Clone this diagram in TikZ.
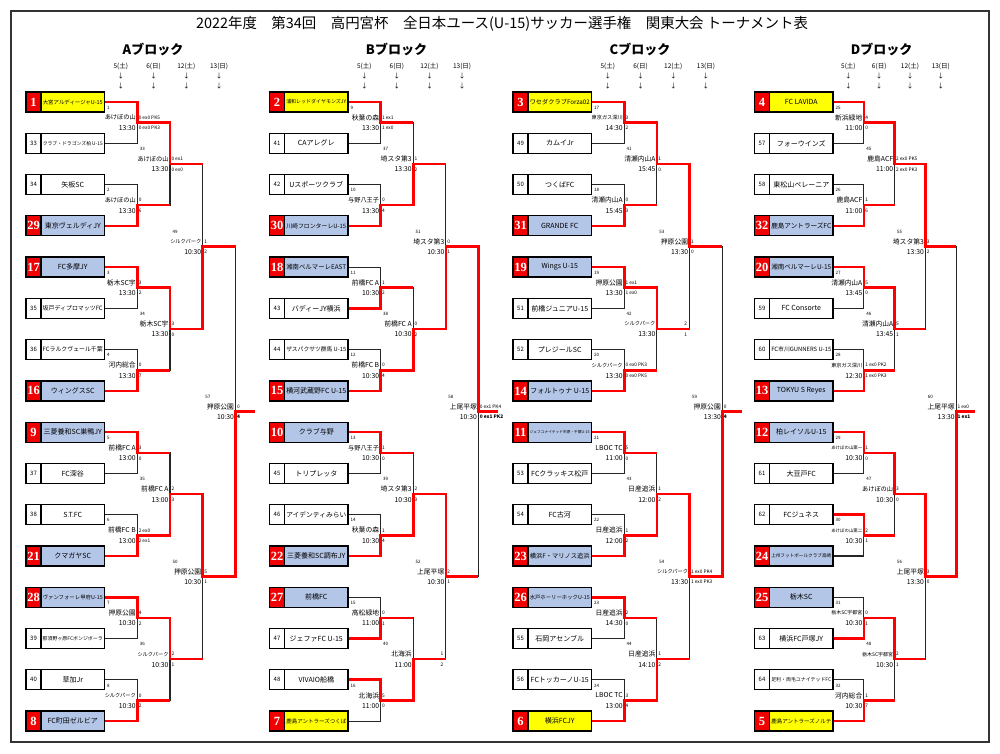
\documentclass[tikz,border=0pt]{standalone}
\usepackage{fontspec}
\usepackage{graphicx}
\newfontfamily\jp{Noto Sans CJK JP}
\newfontfamily\seedfont{Liberation Serif}
\definecolor{linered}{RGB}{255,0,0}
\definecolor{seedred}{RGB}{240,0,0}
\definecolor{seedblue}{RGB}{180,198,231}
\definecolor{seedyellow}{RGB}{255,255,0}
\pgfdeclarelayer{back}
\pgfdeclarelayer{mid}
\pgfsetlayers{back,mid,main}

%% shrink a text to a given width when it is too long
\newsavebox\fitbox
\newcommand\fitw[2]{\sbox\fitbox{#2}\ifdim\wd\fitbox>#1\relax\resizebox{#1}{!}{\usebox\fitbox}\else\usebox\fitbox\fi}

\tikzset{
  frame/.style={draw=black!80, line width=1.4pt},
  bline/.style={draw=black!85, line width=1.1pt},
  wline/.style={draw=linered, line width=2.6pt},
  numcell/.style={draw, line width=1.3pt, minimum width=15pt, minimum height=20pt, inner sep=0pt, fill=white, font=\jp\fontsize{6}{6}\selectfont},
  seedcell/.style={numcell, fill=seedred, text=white, font=\seedfont\bfseries\fontsize{12.5}{12.5}\selectfont},
  namecell/.style={draw, line width=1.3pt, minimum width=63.5pt, minimum height=20pt, inner sep=0pt, font=\jp\fontsize{7}{7}\selectfont},
  venue/.style={anchor=east, inner sep=0.3pt, font=\jp\fontsize{6.8}{7}\selectfont},
  score/.style={anchor=west, inner sep=0.3pt, font=\jp\fontsize{4.8}{5}\selectfont},
  matchno/.style={anchor=west, inner sep=0.3pt, font=\jp\fontsize{4.5}{5}\selectfont},
  datelab/.style={inner sep=0pt, font=\jp\fontsize{6.5}{7}\selectfont},
  blockhead/.style={inner sep=0pt, font=\jp\bfseries\fontsize{13}{13}\selectfont},
  titlelab/.style={inner sep=0pt, font=\jp\fontsize{14}{14}\selectfont},
}

%% #1 block letter, #2 left edge, #3 round step, #4 final stub, #5 teams, #6 matches
\newcommand\drawblock[6]{%
  \pgfmathsetmacro\Rx{#2+78.5}
  \node[blockhead] (#1-head) at (#2+127,49) {#1ブロック};
  \foreach \dlab [count=\dk from 0] in {5(土),6(日),12(土),13(日)}{
    \pgfmathsetmacro\xd{\Rx+(\dk+0.5)*#3}
    \node[datelab] (#1-date\dk) at (\xd,66) {\dlab};
    \node[datelab] (#1-arra\dk) at (\xd,76) {↓};
    \node[datelab] (#1-arrb\dk) at (\xd,86) {↓};
  }
  % teams
  \foreach \tnum/\tname/\tkind [count=\ti from 0] in {#5}{
    \pgfmathsetmacro\yt{102+41.27*\ti}
    \if W\tkind
      \node[numcell] (#1-n\ti) at (#2+7.5,\yt) {\tnum};
      \def\cfill{white}
    \else
      \node[seedcell] (#1-n\ti) at (#2+7.5,\yt) {\tnum};
      \if Y\tkind \def\cfill{seedyellow}\else\def\cfill{seedblue}\fi
    \fi
    \node[namecell, fill=\cfill] (#1-t\ti) at (#2+46.75,\yt) {\fitw{60pt}{\tname}};
    \coordinate (#1-0-\ti) at (#1-t\ti.east);
  }
  % matches
  \foreach \rnd/\idx/\mno/\ven/\tim/\sa/\sb/\win/\pos in {#6}{
    \pgfmathtruncatemacro\rp{\rnd-1}
    \pgfmathtruncatemacro\jt{2*\idx}
    \pgfmathtruncatemacro\jb{2*\idx+1}
    \pgfmathtruncatemacro\jw{2*\idx+\win}
    \pgfmathsetmacro\xm{\Rx+\rnd*#3}
    \pgfmathsetmacro\xl{\Rx+\rp*#3}
    \pgfmathsetmacro\ym{102+41.27*(\idx*2^\rnd+(2^\rnd-1)/2)}
    \pgfmathsetmacro\xo{\rnd<4 ? \Rx+(\rnd+1)*#3 : \Rx+4*#3+#4}
    \coordinate (#1-\rnd-\idx) at (\xm,\ym);
    \coordinate (#1-\rnd-\idx-out) at (\xo,\ym);
    \begin{pgfonlayer}{back}
      \draw[bline] (#1-\rp-\jt) -| (#1-\rnd-\idx) |- (#1-\rp-\jb);
    \end{pgfonlayer}
    \begin{pgfonlayer}{mid}
      \draw[wline] (#1-\rp-\jw) -| (#1-\rnd-\idx) -- (#1-\rnd-\idx-out);
    \end{pgfonlayer}
    \node[matchno] (#1-no\mno) at (\xl+2,\ym-15) {\mno};
    \node[venue] (#1-v\mno) at (\xm-1,\ym-5) {\fitw{31pt}{\ven}};
    \node[venue] (#1-h\mno) at (\xm-1,\ym+5.5) {\tim};
    \if o\pos
      \node[score, anchor=east] (#1-sa\mno) at (\xo-2,\ym-5) {\sa};
      \node[score, anchor=east] (#1-sb\mno) at (\xo-2,\ym+5.5) {\sb};
    \else
      \node[score] (#1-sa\mno) at (\xm+1,\ym-5) {\sa};
      \node[score] (#1-sb\mno) at (\xm+1,\ym+5.5) {\sb};
    \fi
  }
}

\begin{document}
\begin{tikzpicture}[x=1pt,y=-1pt]
  \useasboundingbox (0,0) rectangle (1000,753);
  \draw[frame] (11,11) rectangle (989,742);
  \node[titlelab] (title) at (502,24) {\resizebox{612pt}{!}{2022年度　第34回　高円宮杯　全日本ユース(U-15)サッカー選手権　関東大会 トーナメント表}};

  %% A block
  \drawblock{A}{26}{32.75}{19.5}{1/大宮アルディージャU-15/Y,
    33/クラブ・ドラゴンズ柏 U-15/W,
    34/矢板SC/W,
    29/東京ヴェルディJY/B,
    17/FC多摩JY/B,
    35/坂戸ディプロマッツFC/W,
    36/FCラルクヴェール千葉/W,
    16/ウィングスSC/B,
    9/三菱養和SC巣鴨JY/B,
    37/FC深谷/W,
    38/S.T.FC/W,
    21/クマガヤSC/B,
    28/ヴァンフォーレ甲府U-15/B,
    39/那須野ヶ原FCボンジボーラ/W,
    40/草加Jr/W,
    8/FC町田ゼルビア/B}{1/0/1/あけぼの山/13:30/0 ex0 PK5/0 ex0 PK3/0/n,
    1/1/2/あけぼの山/13:30/0/6/1/n,
    1/2/3/栃木SC宇/13:30/3/2/0/n,
    1/3/4/河内総合/13:30/0/7/1/n,
    1/4/5/前橋FC A/13:00/3/0/0/n,
    1/5/6/前橋FC B/13:00/2 ex0/2 ex1/1/n,
    1/6/7/押原公園/10:30/4/2/0/n,
    1/7/8/シルクパーク/10:30/0/2/1/n,
    2/0/33/あけぼの山/13:30/0 ex1/0 ex0/0/n,
    2/1/34/栃木SC宇/13:30/3/0/0/n,
    2/2/35/前橋FC A/13:00/2/3/1/n,
    2/3/36/シルクパーク/10:30/2/1/0/n,
    3/0/49/シルクパーク/10:30/1/2/1/n,
    3/1/50/押原公園/10:30/5/1/0/n,
    4/0/57/押原公園/10:30/0/\textbf{4}/1/n}

  %% B block
  \drawblock{B}{269.5}{32.6}{20}{2/浦和レッドダイヤモンズJY/Y,
    41/CAアレグレ/W,
    42/Uスポーツクラブ/W,
    30/川崎フロンターレU-15/B,
    18/湘南ベルマーレEAST/B,
    43/バディーJY横浜/W,
    44/ザスパクサツ群馬 U-15/W,
    15/横河武蔵野FC U-15/B,
    10/クラブ与野/B,
    45/トリプレッタ/W,
    46/アイデンティみらい/W,
    22/三菱養和SC調布JY/B,
    27/前橋FC/B,
    47/ジェファFC U-15/W,
    48/VIVAIO船橋/W,
    7/鹿島アントラーズつくば/Y}{1/0/9/秋葉の森/13:30/1 ex1/1 ex0/0/n,
    1/1/10/与野八王子/13:30/0/4/1/n,
    1/2/11/前橋FC A/10:30/1/2/1/n,
    1/3/12/前橋FC B/10:30/0/4/1/n,
    1/4/13/与野八王子/10:30/1/0/0/n,
    1/5/14/秋葉の森/10:30/1/4/1/n,
    1/6/15/高松緑地/11:00/0/1/1/n,
    1/7/16/北海浜/11:00/5/0/0/n,
    2/0/37/埼スタ第3/13:30/1/2/1/n,
    2/1/38/前橋FC A/10:30/0/2/1/n,
    2/2/39/埼スタ第3/10:30/2/3/1/n,
    2/3/40/北海浜/11:00/1/2/1/o,
    3/0/51/埼スタ第3/10:30/0/1/1/n,
    3/1/52/上尾平塚/10:30/2/1/0/n,
    4/0/58/上尾平塚/10:30/0 ex1 PK4/\textbf{0 ex1 PK2}/0/n}

  %% C block
  \drawblock{C}{513}{32.7}{20}{3/ワセダクラブForza02/Y,
    49/カムイJr/W,
    50/つくばFC/W,
    31/GRANDE FC/B,
    19/Wings U-15/B,
    51/前橋ジュニアU-15/W,
    52/プレジールSC/W,
    14/フォルトゥナ U-15/B,
    11/ジェフユナイテッド市原・千葉U-15/B,
    53/FCクラッキス松戸/W,
    54/FC古河/W,
    23/横浜F・マリノス追浜/B,
    26/水戸ホーリーホックU-15/B,
    55/石岡アセンブル/W,
    56/FCトッカーノU-15/W,
    6/横浜FCJY/Y}{1/0/17/東京ガス深川/14:30/3/2/0/n,
    1/1/18/清瀬内山A/15:45/0/3/1/n,
    1/2/19/押原公園/13:30/1 ex1/1 ex0/0/n,
    1/3/20/シルクパーク/13:30/0 ex0 PK3/0 ex0 PK5/1/n,
    1/4/21/LBOC TC/11:00/5/0/0/n,
    1/5/22/日産追浜/12:00/1/2/1/n,
    1/6/23/日産追浜/14:30/2/0/0/n,
    1/7/24/LBOC TC/13:00/3/4/1/n,
    2/0/41/清瀬内山A/15:45/1/0/0/n,
    2/1/42/シルクパーク/13:30/2/1/0/o,
    2/2/43/日産追浜/12:00/1/2/1/n,
    2/3/44/日産追浜/14:10/1/2/1/n,
    3/0/53/押原公園/13:30/1/0/0/n,
    3/1/54/シルクパーク/13:30/1 ex0 PK4/1 ex0 PK3/0/n,
    4/0/59/押原公園/13:30/0/\textbf{4}/1/n}

  %% D block
  \drawblock{D}{754.5}{30.8}{19}{4/FC LAVIDA/Y,
    57/フォーウインズ/W,
    58/東松山ペレーニア/W,
    32/鹿島アントラーズFC/B,
    20/湘南ベルマーレU-15/B,
    59/FC Consorte/W,
    60/FC市川GUNNERS U-15/W,
    13/TOKYU S Reyes/B,
    12/柏レイソルU-15/B,
    61/大豆戸FC/W,
    62/FCジュネス/W,
    24/上州フットボールクラブ高崎/B,
    25/栃木SC/B,
    63/横浜FC戸塚JY/W,
    64/足利・両毛ユナイテッドFC/W,
    5/鹿島アントラーズノルテ/Y}{1/0/25/新浜緑地/11:00/4/0/0/n,
    1/1/26/鹿島ACF/11:00/1/6/1/n,
    1/2/27/清瀬内山A/13:45/5/0/0/n,
    1/3/28/東京ガス深川/12:30/1 ex0 PK2/1 ex0 PK3/1/n,
    1/4/29/あけぼの山第一/10:30/1/0/0/n,
    1/5/30/あけぼの山第二/10:30/2/1/0/n,
    1/6/31/栃木SC宇都宮/10:30/0/1/1/n,
    1/7/32/河内総合/10:30/1/7/1/n,
    2/0/45/鹿島ACF/11:00/2 ex0 PK5/2 ex0 PK3/0/n,
    2/1/46/清瀬内山A/13:45/5/1/0/n,
    2/2/47/あけぼの山/10:30/3/0/0/n,
    2/3/48/栃木SC宇都宮/10:30/2/1/0/n,
    3/0/55/埼スタ第3/13:30/3/2/0/n,
    3/1/56/上尾平塚/13:30/3/0/0/n,
    4/0/60/上尾平塚/13:30/1 ex0/\textbf{1 ex1}/1/n}
\end{tikzpicture}
\end{document}
